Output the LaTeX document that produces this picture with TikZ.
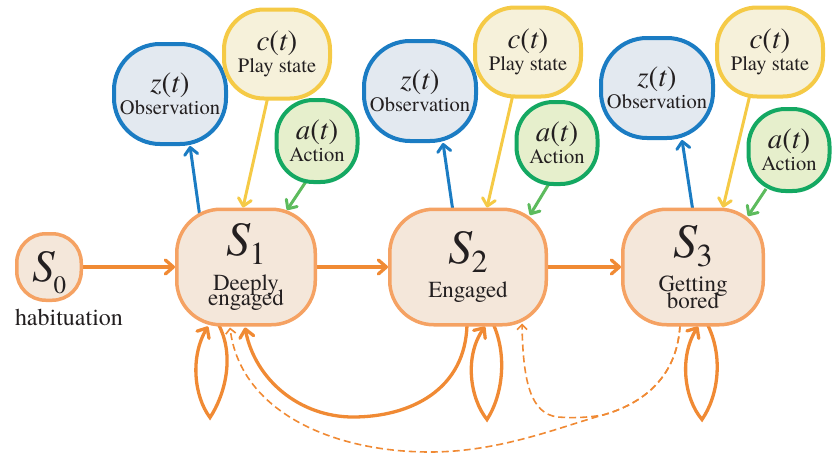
\documentclass[tikz,border=0pt]{standalone}
\usepackage{fontspec}
\IfFontExistsTF{texgyretermes-regular.otf}{%
  \setmainfont{texgyretermes}[Extension=.otf,UprightFont=*-regular,ItalicFont=*-italic,BoldFont=*-bold,BoldItalicFont=*-bolditalic]
  \def\szS{48}\def\szSub{32}\def\szSz{45}\def\szSubz{25}\def\szTxt{23}\def\szF{29}\def\szLbl{20.5}\def\szHab{24}}{%
  \def\szS{46}\def\szSub{30}\def\szSz{43}\def\szSubz{24}\def\szTxt{21.5}\def\szF{27}\def\szLbl{18.5}\def\szHab{21.5}}
\usetikzlibrary{arrows.meta,calc}
\pgfdeclarelayer{background}
\pgfsetlayers{background,main}
\definecolor{txt}{HTML}{231F20}
\definecolor{aorange}{HTML}{F08A34}
\definecolor{sborder}{HTML}{F5A263}
\definecolor{sfill}{HTML}{F4E7DA}
\definecolor{bblue}{HTML}{1B7CC3}
\definecolor{bfill}{HTML}{E3E9F0}
\definecolor{yyellow}{HTML}{F5CA46}
\definecolor{yfill}{HTML}{F6F1DA}
\definecolor{ggreen}{HTML}{14A862}
\definecolor{garrow}{HTML}{5DBB5D}
\definecolor{gfill}{HTML}{E6EFCC}
\newcommand\SLbl[1]{{\fontsize{\szS}{\szS}\selectfont\itshape S}\kern-1pt\raisebox{-9pt}[0pt][0pt]{\fontsize{\szSub}{\szSub}\selectfont #1}}
\newcommand\FLbl[1]{{\fontsize{\szF}{\szF}\selectfont\itshape #1\/\upshape(\itshape t\/\upshape)}}
\begin{document}
\begin{tikzpicture}[x=1pt,y=-1pt,
  statebox/.style={draw=sborder, fill=sfill, line width=3.5pt, rounded corners=44pt,
    inner sep=0pt, align=center, text=txt, font=\fontsize{\szTxt}{21.5}\selectfont,
    minimum height=115.5pt},
  topbox/.style={line width=4pt, inner sep=0pt, align=center, text=txt,
    font=\fontsize{\szLbl}{22}\selectfont},
  obsbox/.style={topbox, draw=bblue, fill=bfill, rounded corners=46pt,
    minimum width=112pt, minimum height=100pt},
  playbox/.style={topbox, draw=yyellow, fill=yfill, rounded corners=40pt,
    minimum width=106pt, minimum height=89pt},
  actbox/.style={topbox, draw=ggreen, fill=gfill, rounded corners=37pt,
    minimum width=81pt, minimum height=82pt},
  flow/.style={draw=aorange, line width=3.3pt,
    -{Straight Barb[length=8pt,width=14pt,round]}},
  obsflow/.style={draw=bblue, line width=3pt,
    -{Straight Barb[length=7pt,width=13pt,round]}},
  playflow/.style={draw=yyellow, line width=3pt,
    -{Straight Barb[length=7pt,width=13pt,round]}},
  actflow/.style={draw=garrow, line width=3pt,
    -{Straight Barb[length=7pt,width=13pt,round]}},
  hint/.style={draw=aorange, line width=1.6pt, dash pattern=on 7pt off 4pt,
    -{Straight Barb[length=5pt,width=10pt]}}
]
\useasboundingbox (0,0) rectangle (833,455);

% state nodes
\node[statebox, minimum width=64.5pt, minimum height=66.5pt, rounded corners=29pt] (S0) at (49,267)
  {{\fontsize{\szSz}{\szSz}\selectfont\itshape S}\kern-1pt\raisebox{-12pt}[0pt][0pt]{\fontsize{\szSubz}{\szSubz}\selectfont 0}};
\node[anchor=base, text=txt, font=\fontsize{\szHab}{\szHab}\selectfont] (hab) at (69,325) {habituation};
\node[statebox, minimum width=138.5pt] (S1) at (246,267) {\SLbl{1}\\[13pt] Deeply\\[-6pt] engaged};
\node[statebox, minimum width=156.5pt] (S2) at (468,267) {\SLbl{2}\\[12pt] Engaged};
\node[statebox, minimum width=140.5pt] (S3) at (693,267) {\SLbl{3}\\[13pt] Getting\\[-5pt] bored};

% top nodes
\node[obsbox] (z1) at (170,94) {\FLbl{z}\\ Observation};
\node[playbox] (c1) at (277,54) {\FLbl{c}\\ Play state};
\node[actbox] (a1) at (317,141) {\FLbl{a}\\ Action};
\node[obsbox] (z2) at (420,91) {\FLbl{z}\\ Observation};
\node[playbox] (c2) at (528,52) {\FLbl{c}\\ Play state};
\node[actbox] (a2) at (557,143) {\FLbl{a}\\ Action};
\node[obsbox] (z3) at (657,88) {\FLbl{z}\\ Observation};
\node[playbox] (c3) at (770,52) {\FLbl{c}\\ Play state};
\node[actbox] (a3) at (789,150) {\FLbl{a}\\ Action};

\begin{pgfonlayer}{background}
% chain
\draw[flow] (S0) -- (S1);
\draw[flow] (S1) -- (S2);
\draw[flow] (S2) -- (S3);
% observations
\draw[obsflow] ($(S1.north)+(-46,10)$) -- ($(z1.south)+(20,0)$);
\draw[obsflow] ($(S2.north)+(-15,4)$) -- ($(z2.south)+(23,0)$);
\draw[obsflow] ($(S3.north)+(0,4)$) -- ($(z3.south)+(25,0)$);
% play states
\draw[playflow] ($(c1.south)+(-9,-4)$) -- ($(S1.north)+(-3,0)$);
\draw[playflow] ($(c2.south)+(-15,-4)$) -- ($(S2.north)+(19,0)$);
\draw[playflow] ($(c3.south)+(-20,-4)$) -- ($(S3.north)+(30,0)$);
% actions
\draw[actflow] ($(a1.south)+(-10,-4)$) -- ($(S1.center)+(41,-57)$);
\draw[actflow] ($(a2.south)+(-7,-4)$) -- ($(S2.center)+(62,-52)$);
\draw[actflow] ($(a3.south)+(-23,-4)$) -- ($(S3.center)+(55,-51)$);
% self loops
\begin{scope}[shift={(S1.south)}]
\draw[flow] (-28,-3) .. controls (-10,30) and (-22,70) .. (-36,91)
  .. controls (-52,70) and (-56,30) .. (-38,0);
\end{scope}
\begin{scope}[shift={(S2.south)}]
\draw[flow] (25,-3) .. controls (40,30) and (34,70) .. (19,93)
  .. controls (2,72) and (-4,30) .. (17,0);
\end{scope}
\begin{scope}[shift={(S3.south)}]
\draw[flow] (14,-3) .. controls (31,30) and (25,70) .. (9,93)
  .. controls (-9,72) and (-14,30) .. (5,0);
\end{scope}
% return S2 -> S1
\draw[flow] ($(S2.south)+(-1,-3)$) .. controls (466,390) and (410,417) .. (353,417)
  .. controls (300,417) and (255,380) .. ($(S1.south)+(-1,1)$);
% dashed returns from S3
\draw[hint] ($(S3.south)+(-13,-1)$) .. controls (677,378) and (642,404) .. (603,415)
  .. controls (560,427) and (500,452) .. (430,452)
  .. controls (330,452) and (240,410) .. ($(S1.south)+(-16,1)$);
\draw[hint] ($(S3.south)+(-13,-1)$) .. controls (677,378) and (642,404) .. (603,415)
  .. controls (585,418) and (570,418) .. (558,417)
  .. controls (530,414) and (523,380) .. ($(S2.south)+(54,-3)$);
\end{pgfonlayer}
\end{tikzpicture}
\end{document}
